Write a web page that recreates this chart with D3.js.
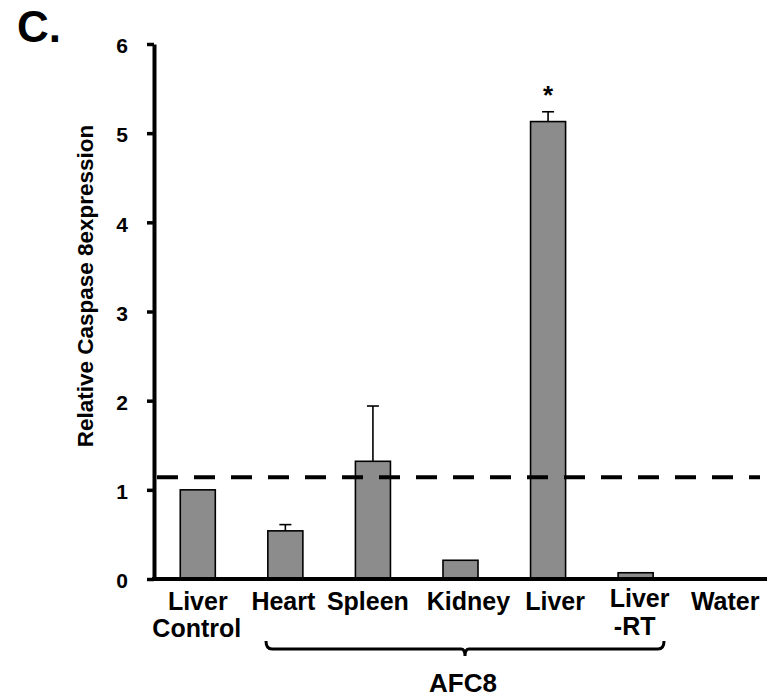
<!DOCTYPE html>
<html><head><meta charset="utf-8">
<script src="https://cdn.jsdelivr.net/npm/d3@7"></script>
<style>body{margin:0;background:#fff}svg{display:block}text{font-family:"Liberation Sans",Arial,sans-serif;font-weight:bold;fill:#000}</style>
</head><body>
<script>
const categories = ["Liver Control","Heart","Spleen","Kidney","Liver","Liver -RT","Water"];
const labelLines = [["Liver","Control"],["Heart"],["Spleen"],["Kidney"],["Liver"],["Liver","-RT"],["Water"]];
const values = [1.0, 0.54, 1.32, 0.21, 5.13, 0.07, 0];
const errors = [0, 0.07, 0.62, 0, 0.11, 0, 0];
const significant = [false,false,false,false,true,false,false];
const yTicks = [0,1,2,3,4,5,6];
const threshold = 1.14;
const groupLabel = "AFC8";

const W=772,H=700;
const svg=d3.select("body").append("svg").attr("width",W).attr("height",H);
const m={left:154,top:44,right:5,bottom:121};
const x=d3.scaleBand().domain(categories).range([m.left,W-m.right]).paddingInner(0.6).paddingOuter(0.3);
const y=d3.scaleLinear().domain([0,6]).range([H-m.bottom,m.top]);
const labelDx=[0,-2,-5,8,7,4,2];
const labelLineDx=[[0,-1],[0],[0],[0],[0],[0,-5],[0]];

// bars
svg.selectAll("rect.bar").data(categories).join("rect").attr("class","bar")
 .attr("x",d=>x(d)).attr("width",x.bandwidth())
 .attr("y",(d,i)=>y(values[i])).attr("height",(d,i)=>y(0)-y(values[i]))
 .attr("fill","#8c8c8c").attr("stroke","#000").attr("stroke-width",1.6);

// error bars
categories.forEach((c,i)=>{
  const cx=x(c)+x.bandwidth()/2;
  if(errors[i]>0){
    svg.append("line").attr("x1",cx).attr("x2",cx).attr("y1",y(values[i])).attr("y2",y(values[i]+errors[i])).attr("stroke","#000").attr("stroke-width",1.6);
    svg.append("line").attr("x1",cx-6).attr("x2",cx+6).attr("y1",y(values[i]+errors[i])).attr("y2",y(values[i]+errors[i])).attr("stroke","#000").attr("stroke-width",1.6);
  }
  if(significant[i]){
    svg.append("text").attr("x",cx).attr("y",y(values[i]+errors[i])-8).attr("text-anchor","middle").attr("font-size",26).text("*");
  }
});

// dashed threshold
svg.append("line").attr("x1",m.left+3).attr("x2",760).attr("y1",y(threshold)).attr("y2",y(threshold))
 .style("stroke","#000").style("stroke-width","4px").attr("stroke-dasharray","21,16");

// y axis
const ya=svg.append("g").attr("transform",`translate(${m.left},0)`)
 .call(d3.axisLeft(y).tickValues(yTicks).tickFormat(d3.format("d")).tickSize(7).tickSizeOuter(0));
ya.select(".domain").style("stroke","#000").style("stroke-width","4px");
ya.selectAll(".tick line").style("stroke","#000").style("stroke-width","3.5px");
ya.selectAll(".tick text").attr("font-size",21).attr("x",-26).attr("dy","0.42em")
  .style("font-family","Liberation Sans, Arial, sans-serif").style("font-weight","bold");

// x axis line
svg.append("line").attr("x1",m.left-2).attr("x2",767).attr("y1",y(0)).attr("y2",y(0)).style("stroke","#000").style("stroke-width","4px");

// x labels
categories.forEach((c,i)=>{
  const cx=x(c)+x.bandwidth()/2+labelDx[i];
  const lines=labelLines[i];
  const t=svg.append("text").attr("text-anchor","middle").attr("font-size",25);
  const ys = c==="Liver -RT" ? [607,635] : [610,637];
  lines.forEach((l,j)=>{
    t.append("tspan").attr("x",cx+labelLineDx[i][j]).attr("y",ys[j]).text(l);
  });
});

// bracket
const bx1=266,bx2=664,by=649,bmid=(bx1+bx2)/2;
svg.append("path").attr("fill","none").style("stroke","#000").style("stroke-width","3px")
 .attr("d",`M${bx1},${by-8} Q${bx1},${by} ${bx1+6},${by} L${bmid-4},${by} Q${bmid},${by} ${bmid},${by+7} Q${bmid},${by} ${bmid+4},${by} L${bx2-6},${by} Q${bx2},${by} ${bx2},${by-8}`);
svg.append("text").attr("x",bmid-2).attr("y",692).attr("text-anchor","middle").attr("font-size",26).text(groupLabel);

// y title
svg.append("text").attr("transform","translate(93,286) rotate(-90)").attr("text-anchor","middle").attr("font-size",22.5).text("Relative Caspase 8expression");

// panel letter
svg.append("text").attr("x",17).attr("y",42).attr("font-size",44).text("C.");
</script>
</body></html>
